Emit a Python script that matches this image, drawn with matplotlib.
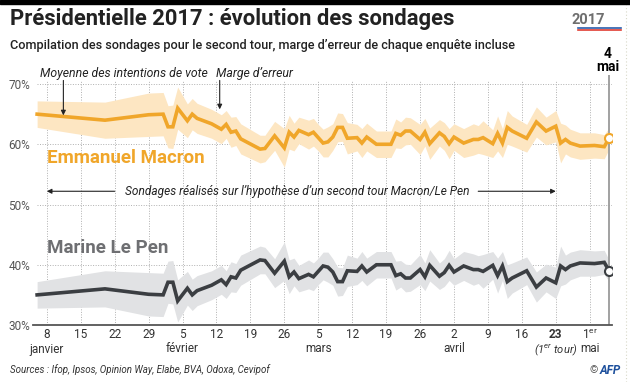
import matplotlib
matplotlib.use("Agg")
import matplotlib.pyplot as plt
import matplotlib.dates as mdates
import numpy as np
from datetime import datetime, timedelta

dates = ["2017-01-06", "2017-01-20", "2017-01-29", "2017-02-01", "2017-02-02", "2017-02-03",
         "2017-02-04", "2017-02-06", "2017-02-07", "2017-02-08", "2017-02-11", "2017-02-13",
         "2017-02-14", "2017-02-15", "2017-02-16", "2017-02-17", "2017-02-21", "2017-02-22",
         "2017-02-24", "2017-02-26", "2017-02-27", "2017-02-28", "2017-03-01", "2017-03-03",
         "2017-03-04", "2017-03-05", "2017-03-06", "2017-03-07", "2017-03-08", "2017-03-09",
         "2017-03-10", "2017-03-11", "2017-03-13", "2017-03-14", "2017-03-15", "2017-03-17",
         "2017-03-20", "2017-03-21", "2017-03-22", "2017-03-23", "2017-03-24", "2017-03-26",
         "2017-03-27", "2017-03-28", "2017-03-30", "2017-03-31", "2017-04-01", "2017-04-02",
         "2017-04-04", "2017-04-06", "2017-04-07", "2017-04-08", "2017-04-10", "2017-04-11",
         "2017-04-12", "2017-04-13", "2017-04-14", "2017-04-17", "2017-04-19", "2017-04-21",
         "2017-04-23", "2017-04-24", "2017-04-25", "2017-04-26", "2017-04-28", "2017-05-01",
         "2017-05-03", "2017-05-04"]

macron = [65.0, 64.0, 64.9, 65.0, 62.9, 62.9, 66.0, 63.9, 65.0, 64.3, 63.4, 62.5,
          63.3, 62.0, 62.2, 60.9, 59.2, 59.3, 61.4, 59.4, 62.0, 61.2, 62.3, 61.6,
          62.0, 61.1, 60.2, 60.4, 61.2, 62.8, 62.8, 61.0, 61.1, 60.2, 61.2, 60.0,
          60.0, 61.8, 61.5, 62.2, 62.2, 60.8, 62.0, 60.1, 61.9, 61.3, 60.1, 61.2,
          60.2, 60.8, 60.8, 61.1, 60.1, 61.8, 60.2, 62.8, 62.2, 61.0, 63.7, 62.2,
          63.0, 60.2, 60.8, 60.2, 59.7, 59.8, 59.6, 61.0]

lepen = [35.0, 36.0, 35.1, 35.0, 37.1, 37.1, 34.0, 36.1, 35.0, 35.7, 36.6, 37.5,
         36.7, 38.0, 37.8, 39.1, 40.8, 40.7, 38.6, 40.6, 38.0, 38.8, 37.7, 38.4,
         38.0, 38.9, 39.8, 39.6, 38.8, 37.2, 37.2, 39.0, 38.9, 39.8, 38.8, 40.0,
         40.0, 38.2, 38.5, 37.8, 37.8, 39.2, 38.0, 39.9, 38.1, 38.7, 39.9, 38.8,
         39.8, 39.2, 39.2, 38.9, 39.9, 38.2, 39.8, 37.2, 37.8, 39.0, 36.3, 37.8,
         37.0, 39.8, 39.2, 39.8, 40.3, 40.2, 40.4, 39.0]

# marge d'erreur (+/- points)
marge = [2.2, 3.0, 3.6, 3.6, 3.5, 3.6, 3.5, 2.8, 2.6, 2.5, 2.4, 2.4,
         2.3, 2.5, 2.4, 2.5, 2.3, 2.2, 2.4, 3.2, 2.8, 2.3, 2.2, 2.4,
         2.3, 2.2, 2.3, 2.5, 2.2, 2.4, 2.3, 2.6, 2.2, 2.4, 2.3, 2.2,
         2.2, 2.4, 2.2, 2.3, 2.2, 2.5, 2.3, 2.6, 2.2, 2.3, 2.5, 2.2,
         2.4, 2.6, 2.3, 2.8, 2.3, 2.9, 2.4, 2.8, 2.5, 2.3, 2.5, 2.3,
         2.6, 3.3, 2.4, 2.3, 2.2, 2.1, 2.0, 1.8]

tick_dates = ["2017-01-08", "2017-01-15", "2017-01-22", "2017-01-29", "2017-02-05",
              "2017-02-12", "2017-02-19", "2017-02-26", "2017-03-05", "2017-03-12",
              "2017-03-19", "2017-03-26", "2017-04-02", "2017-04-09", "2017-04-16",
              "2017-04-23", "2017-04-30"]
tick_labels = ["8", "15", "22", "29", "5", "12", "19", "26", "5", "12", "19", "26",
               "2", "9", "16", "23", "1$^{\\mathregular{er}}$"]
mois = {"2017-01-08": "janvier", "2017-02-05": "février", "2017-03-05": "mars",
        "2017-04-02": "avril", "2017-04-30": "mai"}

ORANGE = "#f0a62a"
ORANGE_L = "#fde6c2"
GRIS = "#3b3e42"
GRIS_L = "#e1e2e4"
GRIS_TXT = "#6e6f72"

plt.rcParams["font.family"] = ["Roboto", "DejaVu Sans"]
plt.rcParams["mathtext.fontset"] = "custom"
plt.rcParams["mathtext.rm"] = "Roboto"
plt.rcParams["mathtext.it"] = "Roboto:italic"

W, H = 630, 382
fig = plt.figure(figsize=(W / 100, H / 100), dpi=100)


def fx(x):
    return x / W


def fy(y):
    return 1 - y / H


d = [datetime.strptime(s, "%Y-%m-%d") for s in dates]
m = np.array(macron)
lp = np.array(lepen)
mg = np.array(marge)

ax = fig.add_axes([fx(33), fy(325), fx(612) - fx(33), fy(75) - fy(325)])
ax.set_xlim(d[0] - timedelta(days=0.85), d[-1] + timedelta(days=0.6))
ax.set_ylim(30, 71.5)

# grille pointillée
td = [datetime.strptime(s, "%Y-%m-%d") for s in tick_dates]
for t in td:
    ax.axvline(t, ymin=0, ymax=(70.5 - 30) / 41.5, color="#b0b0b0", lw=0.7,
               ls=(0, (1, 1.6)), zorder=0)
for v in [40, 50, 60, 70]:
    ax.axhline(v, xmin=0.007, color="#b0b0b0", lw=0.7, ls=(0, (1, 1.6)), zorder=0)

ax.fill_between(d, m - mg, m + mg, color=ORANGE_L, lw=0, zorder=1)
ax.fill_between(d, lp - mg, lp + mg, color=GRIS_L, lw=0, zorder=1)
ax.plot(d, m, color=ORANGE, lw=2.6, solid_joinstyle="miter", zorder=3)
ax.plot(d, lp, color=GRIS, lw=2.6, solid_joinstyle="miter", zorder=3)

# ligne du 4 mai
ax.axvline(d[-1], color="#9a9a9a", lw=1.3, zorder=2)
ax.plot(d[-1], m[-1], "o", ms=6.5, mfc="white", mec=ORANGE, mew=1.5, zorder=5)
ax.plot(d[-1], lp[-1], "o", ms=6.5, mfc="white", mec=GRIS, mew=1.5, zorder=5)

for s in ["top", "right", "left"]:
    ax.spines[s].set_visible(False)
ax.spines["bottom"].set_color("#555555")
ax.spines["bottom"].set_linewidth(1.3)

ax.set_yticks([30, 40, 50, 60, 70])
ax.set_yticklabels(["30%", "40%", "50%", "60%", "70%"], fontsize=8.5, color="#555555")
ax.tick_params(axis="y", length=0, pad=2)

ax.set_xticks(td)
ax.set_xticklabels(tick_labels, fontsize=8.5, color="#333333")
ax.tick_params(axis="x", length=0, pad=2.5)
for lab in ax.get_xticklabels():
    if lab.get_text() == "23":
        lab.set_fontweight("bold")

xt = ax.get_xaxis_transform()
for k, v in mois.items():
    ax.text(datetime.strptime(k, "%Y-%m-%d"), -0.07, v, transform=xt, ha="center",
            va="top", fontsize=8.5, color="#333333")
ax.text(datetime(2017, 4, 23), -0.07, "(1$^{\\mathit{er}}$ tour)", transform=xt,
        ha="center", va="top", fontsize=8, style="italic", color="#333333")

# noms des candidats
ax.text(datetime(2017, 1, 8), 57.7, "Emmanuel Macron", color=ORANGE, fontsize=13.5,
        fontweight="bold", va="center", ha="left")
ax.text(datetime(2017, 1, 8), 42.7, "Marine Le Pen", color=GRIS_TXT, fontsize=13.5,
        fontweight="bold", va="center", ha="left")

# annotations
arr = dict(arrowstyle="-|>", color="#222222", lw=0.8, mutation_scale=7, shrinkA=0, shrinkB=0)
fig.text(fx(40), fy(73), "Moyenne des intentions de vote", fontsize=8.8, style="italic",
         color="#222222", va="center")
ax.annotate("", xy=(datetime(2017, 1, 11, 10), 64.8), xytext=(datetime(2017, 1, 11, 10), 70.6),
            arrowprops=arr)
fig.text(fx(216), fy(73), "Marge d\u2019erreur", fontsize=8.8, style="italic",
         color="#222222", va="center")
ax.annotate("", xy=(datetime(2017, 2, 12, 16), 65.8), xytext=(datetime(2017, 2, 12, 16), 70.6),
            arrowprops=arr)

ax.text(datetime(2017, 2, 28, 16), 52.2,
        "Sondages réalisés sur l\u2019hypothèse d\u2019un second tour Macron/Le Pen",
        fontsize=8.6, style="italic", color="#222222", ha="center", va="center")
ax.annotate("", xy=(datetime(2017, 1, 8), 52.2), xytext=(datetime(2017, 1, 22), 52.2),
            arrowprops=arr)
ax.annotate("", xy=(datetime(2017, 4, 23), 52.2), xytext=(datetime(2017, 4, 7), 52.2),
            arrowprops=arr)

fig.text(fx(608), fy(54), "4", fontsize=10, fontweight="bold", ha="center", va="center")
fig.text(fx(608), fy(67), "mai", fontsize=10, fontweight="bold", ha="center", va="center")

# titres
fig.patches.append(plt.Rectangle((0, fy(4)), 1, fy(0) - fy(4), transform=fig.transFigure,
                                 color="black", zorder=10))
fig.text(fx(10), fy(19), "Présidentielle 2017 : évolution des sondages", fontsize=15.8,
         fontweight="bold", color="#222222", va="center")
fig.text(fx(10), fy(45), "Compilation des sondages pour le second tour, marge d\u2019erreur "
         "de chaque enquête incluse", fontsize=9.1, fontweight="medium", color="#222222",
         va="center")
fig.text(fx(10), fy(370), "Sources : Ifop, Ipsos, Opinion Way, Elabe, BVA, Odoxa, Cevipof",
         fontsize=7, style="italic", color="#333333", va="center")

# logos
fig.text(fx(588), fy(20), "2017", fontsize=10.5, fontweight="bold", color="#6f6f6f",
         ha="center", va="center")
fig.add_artist(plt.Line2D([fx(578), fx(621)], [fy(28), fy(28)], color="#2a5caa", lw=1.2,
                          transform=fig.transFigure))
fig.add_artist(plt.Line2D([fx(578), fx(621)], [fy(30), fy(30)], color="#e03c31", lw=1.2,
                          transform=fig.transFigure))
fig.text(fx(594), fy(370), "©", fontsize=7.5, color="#555555", ha="center", va="center")
fig.text(fx(610), fy(370), "AFP", fontsize=8.5, fontweight="bold", style="italic",
         color="#1c4f9c", ha="center", va="center")
fig.add_artist(plt.Line2D([fx(626), fx(626)], [0, fy(5)], color="#d8d8c8", lw=0.8,
                          ls=(0, (1, 2)), transform=fig.transFigure))

fig.savefig("out.png", dpi=100)
